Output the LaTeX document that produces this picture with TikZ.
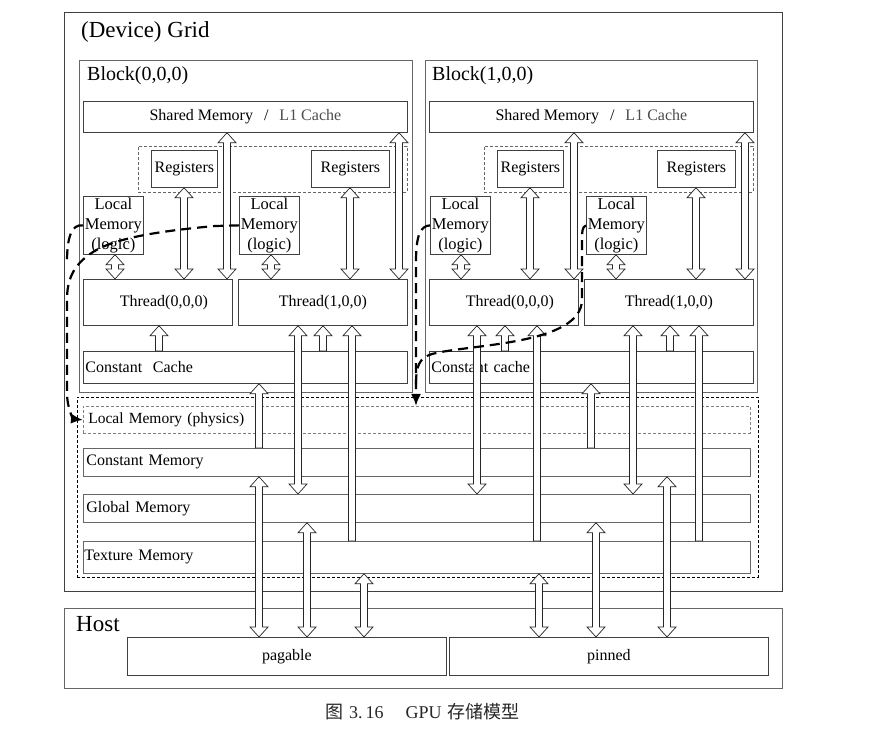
\documentclass[tikz,border=0pt]{standalone}
\usepackage{fontspec}
\setmainfont{Liberation Serif}
\newfontfamily\cjkfont{Noto Sans CJK SC}
\usetikzlibrary{calc,arrows.meta}

\def\ArS{3.5pt}\def\ArH{9pt}\def\ArL{10pt}

% double-headed hollow arrow: x, top anchor, bottom anchor
\newcommand{\DArr}[4][]{%
  \path[harrow,#1] let \p3=(#2,0), \p1=(#3), \p2=(#4) in
    (\x3,\y1) -- ({\x3+\ArH},{\y1-\ArL}) -- ({\x3+\ArS},{\y1-\ArL})
    -- ({\x3+\ArS},{\y2+\ArL}) -- ({\x3+\ArH},{\y2+\ArL}) -- (\x3,\y2)
    -- ({\x3-\ArH},{\y2+\ArL}) -- ({\x3-\ArS},{\y2+\ArL})
    -- ({\x3-\ArS},{\y1-\ArL}) -- ({\x3-\ArH},{\y1-\ArL}) -- cycle;}
% single up hollow arrow: x, top anchor (tip), bottom anchor (tail)
\newcommand{\UArr}[4][]{%
  \path[harrow,#1] let \p3=(#2,0), \p1=(#3), \p2=(#4) in
    (\x3,\y1) -- ({\x3+\ArH},{\y1-\ArL}) -- ({\x3+\ArS},{\y1-\ArL})
    -- ({\x3+\ArS},\y2) -- ({\x3-\ArS},\y2)
    -- ({\x3-\ArS},{\y1-\ArL}) -- ({\x3-\ArH},{\y1-\ArL}) -- cycle;}

\tikzset{
  frame/.style={draw=black!75, line width=0.75pt, inner sep=0pt, anchor=north west},
  gframe/.style={frame, draw=black!60},
  dbox/.style={frame, draw=black!60, dash pattern=on 3pt off 2pt},
  lbl/.style={anchor=west, inner sep=0pt},
  t16/.style={font=\fontsize{16}{19}\selectfont},
  harrow/.style={draw=black!85, fill=white, line width=0.7pt, line join=miter},
  flow/.style={draw=black, line width=2.2pt, dash pattern=on 10pt off 6pt},
  flowtip/.style={-{Latex[length=12pt,width=10pt]}}
}

\begin{document}
\begin{tikzpicture}[x=1pt,y=-1pt]
\useasboundingbox[fill=white] (0,0) rectangle (884,751);

% Grid
\node[frame, minimum width=718pt, minimum height=579pt] (grid) at (64,12) {};
\node[lbl, font=\fontsize{23}{27}\selectfont] (gridT) at (81,32) {(Device) Grid};

% ---------- Block 0 ----------
\node[gframe, minimum width=333pt, minimum height=332pt] (blk0) at (79,60) {};
\node[lbl, font=\fontsize{20}{24}\selectfont] (blk0T) at (87,76) {Block(0,0,0)};
\node[frame, minimum width=324pt, minimum height=31pt, font=\fontsize{16}{19}\selectfont] (sh0) at (83,101)
  {Shared Memory\hspace{11pt}/\hspace{11pt}{\color{black!70}L1 Cache}};
\node[dbox, minimum width=269pt, minimum height=46pt] (rg0) at (138,146) {};
\node[frame, t16, minimum width=66pt, minimum height=37pt] (r0a) at (151,150) {Registers};
\node[frame, t16, minimum width=78pt, minimum height=37pt] (r0b) at (311,150) {Registers};
\node[frame, align=center, font=\fontsize{16.5}{20}\selectfont, minimum width=60pt, minimum height=58pt] (l0a) at (83,196) {Local\\Memory\\(logic)};
\node[frame, align=center, font=\fontsize{16.5}{20}\selectfont, minimum width=60pt, minimum height=58pt] (l0b) at (239,196) {Local\\Memory\\(logic)};
\node[frame, t16, minimum width=149pt, minimum height=46pt] (t0a) at (83,279) {\hspace{12pt}Thread(0,0,0)};
\node[frame, t16, minimum width=169pt, minimum height=46pt] (t0b) at (238,279) {Thread(1,0,0)};
\node[frame, t16, minimum height=32pt, text width=320pt, inner xsep=2pt, align=left] (cc0) at (83,351) {Constant\ \ Cache};

% ---------- Block 1 ----------
\node[gframe, minimum width=332pt, minimum height=332pt] (blk1) at (425,60) {};
\node[lbl, font=\fontsize{20}{24}\selectfont] (blk1T) at (432,76) {Block(1,0,0)};
\node[frame, minimum width=324pt, minimum height=31pt, font=\fontsize{16}{19}\selectfont] (sh1) at (429,101)
  {Shared Memory\hspace{11pt}/\hspace{11pt}{\color{black!70}L1 Cache}};
\node[dbox, minimum width=269pt, minimum height=46pt] (rg1) at (484,146) {};
\node[frame, t16, minimum width=66pt, minimum height=37pt] (r1a) at (497,150) {Registers};
\node[frame, t16, minimum width=78pt, minimum height=37pt] (r1b) at (657,150) {Registers};
\node[frame, align=center, font=\fontsize{16.5}{20}\selectfont, minimum width=60pt, minimum height=58pt] (l1a) at (430,196) {Local\\Memory\\(logic)};
\node[frame, align=center, font=\fontsize{16.5}{20}\selectfont, minimum width=60pt, minimum height=58pt] (l1b) at (586,196) {Local\\Memory\\(logic)};
\node[frame, t16, minimum width=149pt, minimum height=46pt] (t1a) at (429,279) {\hspace{12pt}Thread(0,0,0)};
\node[frame, t16, minimum width=169pt, minimum height=46pt] (t1b) at (584,279) {Thread(1,0,0)};
\node[frame, t16, minimum height=32pt, text width=320pt, inner xsep=2pt, align=left] (cc1) at (429,351) {Constant cache};

% ---------- Device memories ----------
\node[frame, draw=black, dash pattern=on 3pt off 2pt, minimum width=681pt, minimum height=180pt] (gm) at (77,397) {};
\node[dbox, draw=black!50, font=\fontsize{15.5}{18}\selectfont, minimum height=27pt, text width=661pt, inner xsep=3pt, align=left] (phys) at (83,406) {\hspace{2pt}Local Memory (physics)};
\node[gframe, t16, minimum height=28pt, text width=661pt, inner xsep=3pt, align=left] (cmem) at (83,448) {Constant Memory};
\node[gframe, t16, minimum height=28pt, text width=661pt, inner xsep=3pt, align=left] (glob) at (83,494) {Global Memory};
\node[gframe, t16, minimum height=32pt, text width=665pt, inner xsep=1pt, align=left] (tex) at (83,541) {Texture Memory};

% ---------- Host ----------
\node[gframe, minimum width=718pt, minimum height=80pt] (host) at (64,608) {};
\node[lbl, font=\fontsize{23}{27}\selectfont] (hostT) at (76,624) {Host};
\node[frame, t16, minimum width=319pt, minimum height=38pt] (pag) at (127,637) {pagable};
\node[frame, t16, minimum width=319pt, minimum height=38pt] (pin) at (449,637) {pinned};

% caption
\node[lbl, font=\fontsize{18}{21}\selectfont, text=black!85] (cap) at (325,712)
  {{\cjkfont 图}\hspace{6pt}3.\hspace{3pt}16\hspace{22pt}GPU\hspace{6pt}{\cjkfont 存储模型}};

% ---------- arrows, block 0 ----------
\DArr{115}{l0a.south}{t0a.north}
\DArr{184}{r0a.south}{t0a.north}
\DArr{227}{sh0.south}{t0a.north}
\DArr{271}{l0b.south}{t0b.north}
\DArr{350}{r0b.south}{t0b.north}
\DArr{399}{sh0.south}{t0b.north}
\UArr{159}{t0a.south}{cc0.north}
\UArr{323}{t0b.south}{cc0.north}
\UArr{259}{cc0.south}{cmem.north}
\DArr{298}{t0b.south}{glob.north}
\UArr{352}{t0b.south}{tex.north}

% ---------- arrows, block 1 ----------
\DArr{461}{l1a.south}{t1a.north}
\DArr{530}{r1a.south}{t1a.north}
\DArr{574}{sh1.south}{t1a.north}
\DArr{616}{l1b.south}{t1b.north}
\DArr{696}{r1b.south}{t1b.north}
\DArr{745}{sh1.south}{t1b.north}
\UArr{505}{t1a.south}{cc1.north}
\UArr{670}{t1b.south}{cc1.north}
\UArr{591}{cc1.south}{cmem.north}
\DArr{477}{t1a.south}{glob.north}
\UArr{537}{t1a.south}{tex.north}
\DArr{633}{t1b.south}{glob.north}
\UArr{699}{t1b.south}{tex.north}

% ---------- arrows, host ----------
\DArr{259}{cmem.south}{pag.north}
\DArr{307}{glob.south}{pag.north}
\DArr{364}{tex.south}{pag.north}
\DArr{539}{tex.south}{pin.north}
\DArr{596}{glob.south}{pin.north}
\DArr{667}{cmem.south}{pin.north}

% ---------- dashed flows ----------
\coordinate (tip1) at (416,406);
\draw[flow] (l0a.west) .. controls (72,224) and (67,236) .. (67,262);
\draw[flow, flowtip] (l0b.west) -- (215,226) .. controls (160,231) and (112,238) .. (90,254)
  .. controls (73,266) and (67,280) .. (67,300)
  -- (67,392) .. controls (67,410) and (74,419) .. (phys.west);
\draw[flow] (l1b.west) .. controls (582,228) .. (582,250) -- (582,300)
  .. controls (581,345) and (470,344) .. (432,354) .. controls (419,358) and (416,366) .. (416,385);
\draw[flow, flowtip] (l1a.west) .. controls (420,226) and (416,236) .. (416,262) -- (tip1);

\end{tikzpicture}
\end{document}
